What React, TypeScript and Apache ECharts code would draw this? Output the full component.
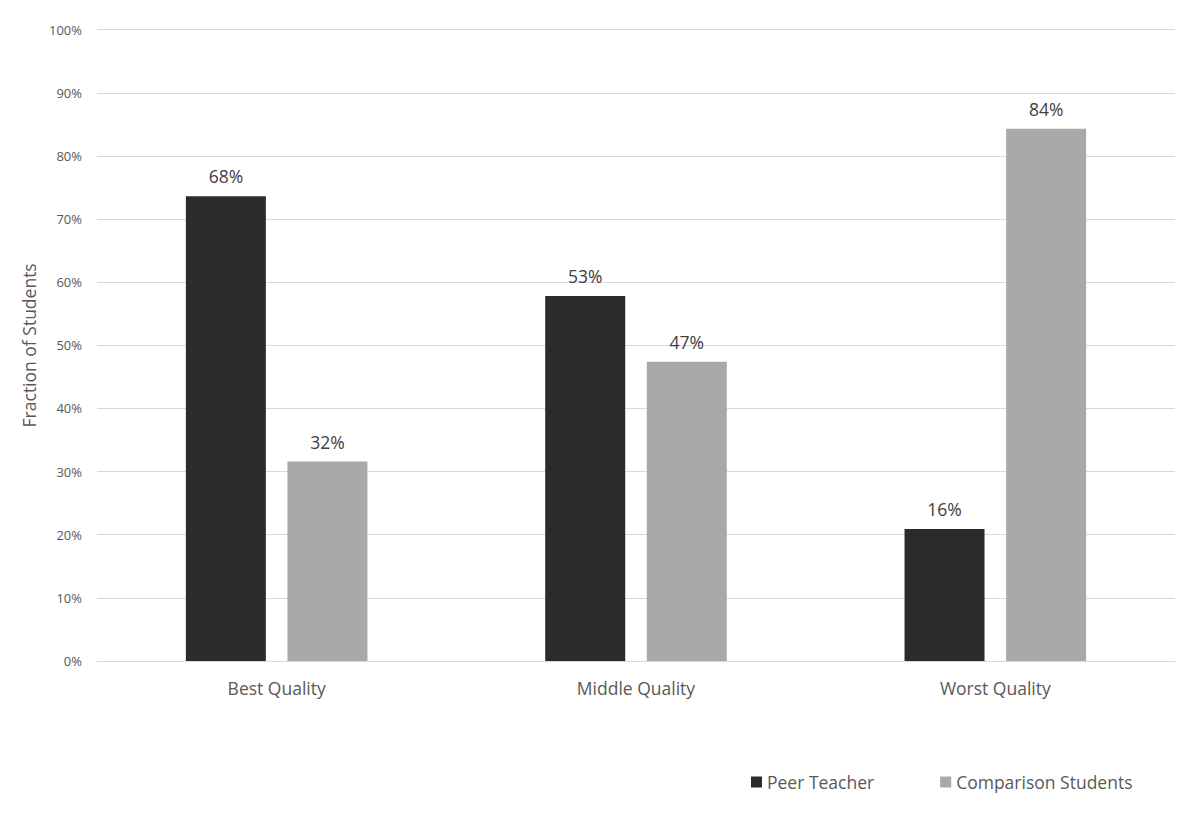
import React, { useEffect, useRef } from "react";
import * as echarts from "echarts";

const categories = ["Best Quality", "Middle Quality", "Worst Quality"];
const seriesNames = ["Peer Teacher", "Comparison Students"];
const peerTeacherValues = [73.6, 57.8, 20.9];
const comparisonValues = [31.6, 47.4, 84.3];
const peerTeacherLabels = ["68%", "53%", "16%"];
const comparisonLabels = ["32%", "47%", "84%"];

const FONT = "'Open Sans', 'Noto Sans', sans-serif";
const TEXT = "#595959";

export default function App() {
  const ref = useRef<HTMLDivElement>(null);
  useEffect(() => {
    document.body.style.margin = "0";
    const chart = echarts.init(ref.current!, null, { renderer: "svg" });
    const mkLabel = (labels: string[]) => ({
      show: true,
      position: "top",
      distance: 11,
      fontSize: 17.5,
      color: "#404040",
      fontFamily: FONT,
      formatter: (p: any) => labels[p.dataIndex],
    });
    chart.setOption({
      animation: false,
      backgroundColor: "#ffffff",
      textStyle: { fontFamily: FONT },
      grid: { left: 97, right: 25, top: 29.7, bottom: 156 },
      legend: {
        left: 746,
        top: 768,
        itemWidth: 11,
        itemHeight: 11,
        itemGap: 66,
        icon: "rect",
        textStyle: { fontSize: 17.5, color: TEXT, fontFamily: FONT },
        data: seriesNames,
      },
      xAxis: {
        type: "category",
        data: categories,
        axisTick: { show: false },
        axisLine: { lineStyle: { color: "#d9d9d9", width: 1 } },
        axisLabel: { fontSize: 17.5, color: TEXT, margin: 18, fontFamily: FONT },
      },
      yAxis: {
        type: "value",
        min: 0,
        max: 100,
        interval: 10,
        name: "Fraction of Students",
        nameLocation: "middle",
        nameGap: 58,
        nameTextStyle: { fontSize: 17.5, color: TEXT, fontFamily: FONT },
        axisLine: { show: false },
        axisTick: { show: false },
        splitLine: { lineStyle: { color: "#d9d9d9", width: 1 } },
        axisLabel: {
          fontSize: 13,
          color: TEXT,
          margin: 15,
          fontFamily: FONT,
          formatter: (v: number) => `${v}%`,
        },
      },
      series: [
        {
          name: seriesNames[0],
          type: "bar",
          data: peerTeacherValues,
          barWidth: 80,
          barGap: "27%",
          itemStyle: { color: "#2b2b2b" },
          label: mkLabel(peerTeacherLabels),
        },
        {
          name: seriesNames[1],
          type: "bar",
          data: comparisonValues,
          barWidth: 80,
          barGap: "27%",
          itemStyle: { color: "#a9a9a9" },
          label: mkLabel(comparisonLabels),
        },
      ],
    });
    return () => chart.dispose();
  }, []);
  return <div ref={ref} style={{ width: 1200, height: 817 }} />;
}
